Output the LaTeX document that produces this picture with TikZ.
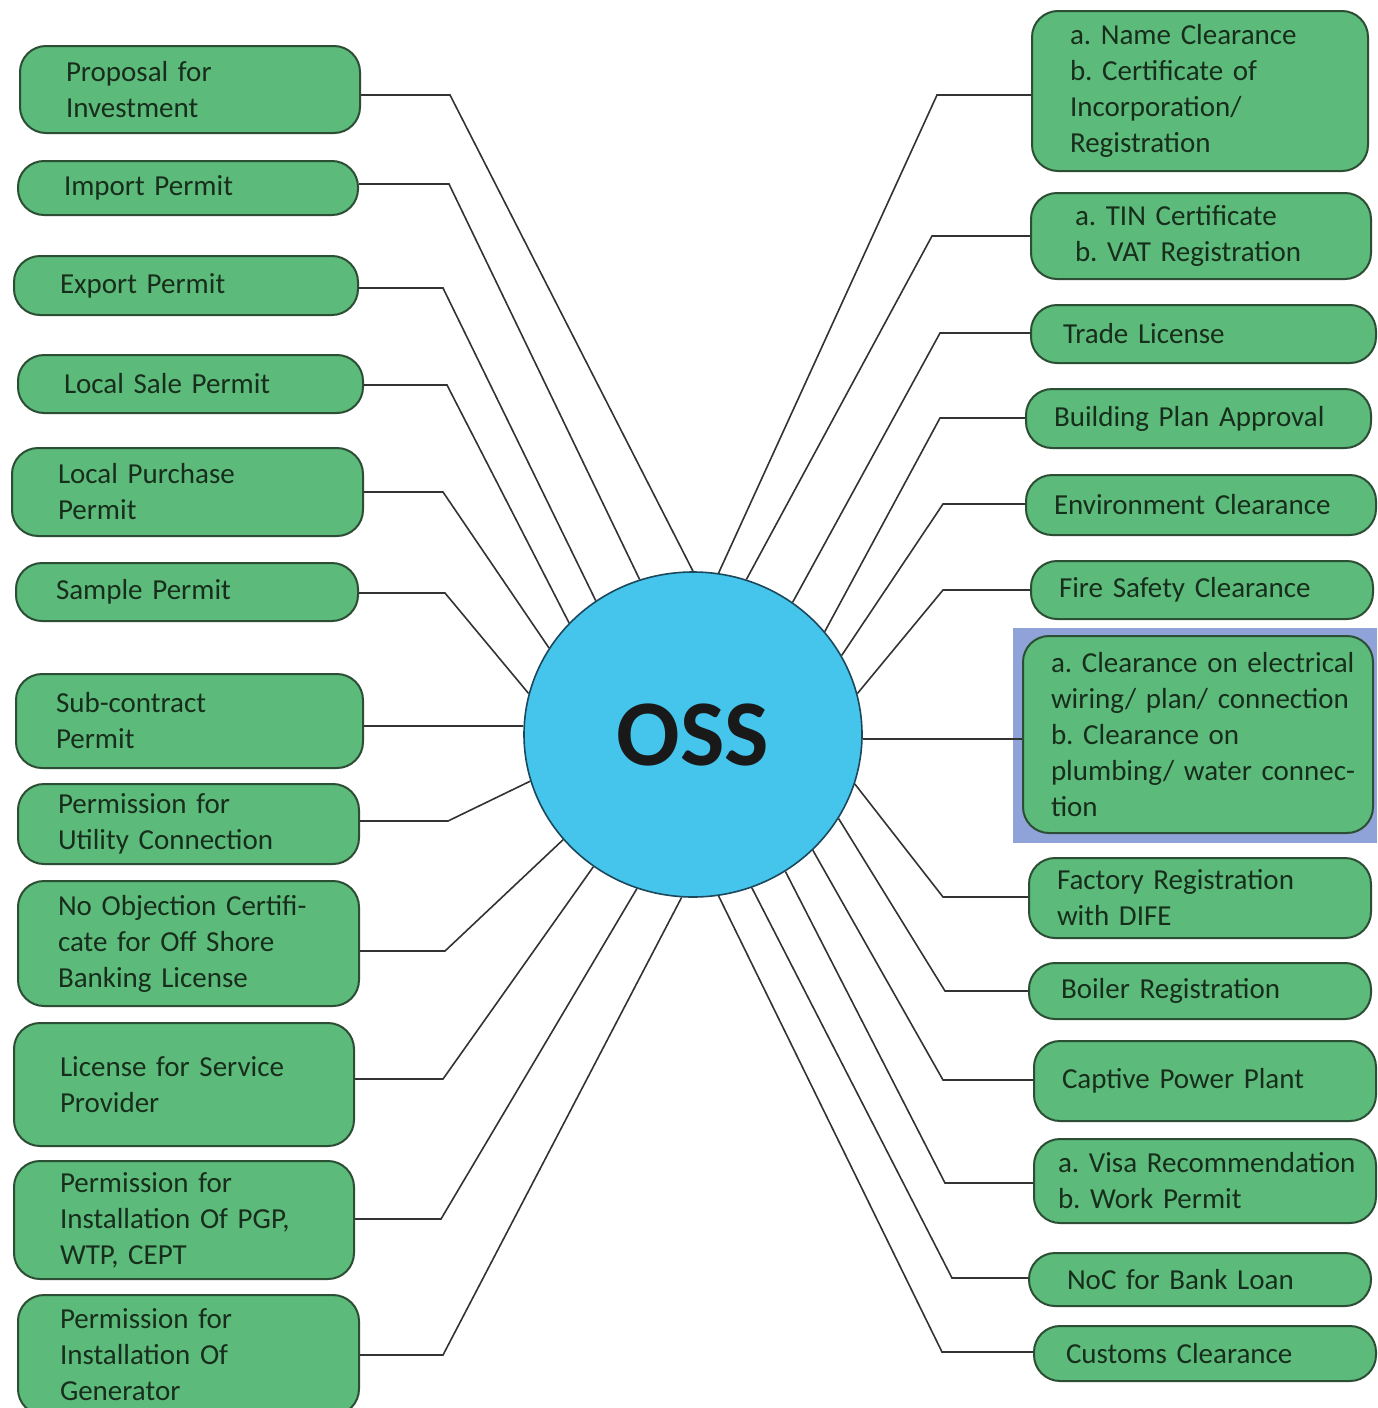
\documentclass[tikz,border=0pt]{standalone}
\usepackage{fontspec}
\setmainfont{Carlito}
\usepackage{xcolor}
\usetikzlibrary{positioning, shapes.geometric, calc}
\definecolor{boxgreen}{RGB}{92,186,122}
\definecolor{boxedge}{RGB}{44,78,52}
\definecolor{boxtext}{RGB}{24,46,28}
\definecolor{ossblue}{RGB}{69,196,236}
\definecolor{ossedge}{RGB}{28,72,92}
\definecolor{hilite}{RGB}{143,163,216}
\newcommand{\oneline}[1]{\mbox{#1}}

\begin{document}
\begin{tikzpicture}[x=0.5pt, y=-0.5pt,
  font=\fontsize{14.5}{18}\selectfont\frenchspacing,
  permit/.style={rectangle, rounded corners=13pt, draw=boxedge, line width=1pt, fill=boxgreen,
                 text=boxtext, align=left, anchor=north west, inner ysep=2pt},
  lbox/.style={permit, inner xsep=23pt, text width=124pt},
  rbox/.style={permit, inner xsep=14pt, text width=143pt},
  hub/.style={ellipse, draw=ossedge, line width=0.8pt, fill=ossblue, inner sep=0pt,
              minimum width=169pt, minimum height=162.5pt, text=black!90,
              font=\fontsize{47}{50}\selectfont\bfseries},
  link/.style={draw=black!80, line width=0.8pt}]
\useasboundingbox (0,0) rectangle (1377,1408);
\fill[white] (0,0) rectangle (1377,1408);
% --- centre ---
\node[hub] (oss) at (693,734.5) {OSS};
% --- left column ---
\node[lbox, minimum height=43.5pt] (L1) at (19,45) {Proposal for\\Investment};
\node[lbox, minimum height=27pt] (L2) at (17,160) {Import Permit};
\node[lbox, minimum height=29.5pt, text width=126pt] (L3) at (13,255) {Export Permit};
\node[lbox, minimum height=29pt, text width=126.5pt] (L4) at (17,354) {Local Sale Permit};
\node[lbox, minimum height=44pt, text width=129.5pt] (L5) at (11,447) {Local Purchase\\Permit};
\node[lbox, minimum height=29pt, inner xsep=20pt, text width=131pt] (L6) at (15,562) {Sample Permit};
\node[lbox, minimum height=47pt, inner xsep=20pt, text width=133.5pt] (L7) at (15,673) {Sub-contract\\Permit};
\node[lbox, minimum height=40pt, inner xsep=20pt, text width=130.5pt] (L8) at (17,783) {Permission for\\Utility Connection};
\node[lbox, minimum height=62.5pt, inner xsep=20pt, text width=130.5pt] (L9) at (17,880) {No Objection Certifi-\\cate for Off Shore\\Banking License};
\node[lbox, minimum height=61.5pt] (L10) at (13,1022) {License for Service\\Provider};
\node[lbox, minimum height=59pt] (L11) at (13,1160) {Permission for\\Installation Of PGP,\\WTP, CEPT};
\node[lbox, minimum height=60pt, inner xsep=21pt, text width=128.5pt] (L12) at (17,1294) {Permission for\\Installation Of\\Generator};
% --- right column ---
\fill[hilite] (1013,628) rectangle (1377,843);
\node[rbox, minimum height=80pt, inner xsep=19pt, text width=130pt] (R1) at (1031,10)
  {a. Name Clearance\\b. Certificate of\\Incorporation/\\Registration};
\node[rbox, minimum height=43pt, inner xsep=22pt, text width=126pt] (R2) at (1030,192)
  {a. TIN Certificate\\b. VAT Registration};
\node[rbox, minimum height=29pt, inner xsep=16pt, text width=140.5pt] (R3) at (1030,304) {Trade License};
\node[rbox, minimum height=29.5pt, text width=144.5pt] (R4) at (1025,388) {Building Plan Approval};
\node[rbox, minimum height=30pt, text width=147pt] (R5) at (1025,474) {Environment Clearance};
\node[rbox, minimum height=29pt] (R6) at (1030,560) {Fire Safety Clearance};
\node[rbox, minimum height=98.5pt, inner xsep=14pt, text width=147pt] (R7) at (1022,635)
  {\oneline{a.~Clearance on electrical}\\\oneline{wiring/ plan/ connection}\\\oneline{b. Clearance on}\\\oneline{plumbing/ water connec-}\\tion};
\node[rbox, minimum height=40pt] (R8) at (1028,857) {Factory Registration\\with DIFE};
\node[rbox, minimum height=28pt, inner xsep=16pt, text width=139pt] (R9) at (1028,962) {Boiler Registration};
\node[rbox, minimum height=40pt] (R10) at (1033,1040) {Captive Power Plant};
\node[rbox, minimum height=42pt, inner xsep=12pt, text width=147pt] (R11) at (1033,1138)
  {\oneline{a. Visa Recommendation}\\\oneline{b. Work Permit}};
\node[rbox, minimum height=26.5pt, inner xsep=19pt, text width=133pt] (R12) at (1028,1252) {NoC for Bank Loan};
\node[rbox, minimum height=27.5pt, inner xsep=16pt, text width=139pt] (R13) at (1033,1325) {Customs Clearance};
% --- connectors ---
\foreach \n/\bx/\by/\a in {L1/450/95/90, L2/449/184/109, L3/443/288/126, L4/447/385/138,
    L5/443/492/149, L6/445/593/166, L8/448/821/196, L9/445/951/219, L10/443/1079/233,
    L11/441/1219/250, L12/443/1355/266}
  \draw[link] (\n.east |- 0,\by) -- (\bx,\by) -- (oss.\a);
\foreach \n/\bx/\by/\a in {R1/937/95/81, R2/932/236/71, R3/940/333/53, R4/940/418/38,
    R5/943/504/28, R6/943/590/14, R8/943/897/343, R9/945/991/330, R10/943/1080/316,
    R11/945/1183/304, R12/952/1278/291, R13/942/1352/279}
  \draw[link] (oss.\a) -- (\bx,\by) -- (\n.west |- 0,\by);
\draw[link] (L7.east |- 0,726) -- (oss.west |- 0,726);
\draw[link] (oss.east |- 0,739) -- (R7.west |- 0,739);
\end{tikzpicture}
\end{document}
